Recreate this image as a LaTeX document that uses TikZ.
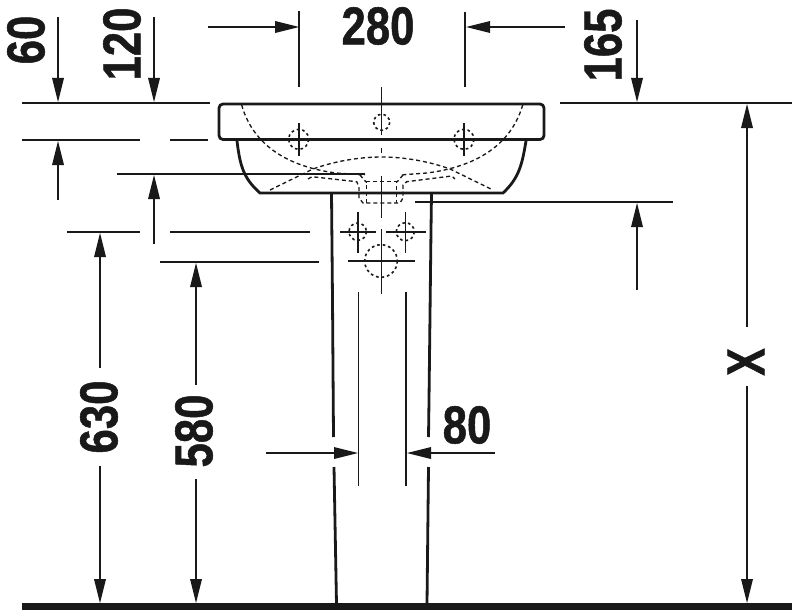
\documentclass[tikz,border=0pt]{standalone}
\usepackage{fontspec}
\setmainfont{Liberation Sans}[BoldFeatures={FakeBold=1.1}]
\definecolor{ink}{rgb}{0.1,0.1,0.1}
\tikzset{
  thinline/.style={ink,line width=0.9pt},
  midline/.style={ink,line width=1.3pt},
  heavyline/.style={ink,line width=2.1pt},
  hidden/.style={ink,line width=1pt,dash pattern=on 3pt off 2.2pt},
  dotted hole/.style={ink,line width=1.2pt,dash pattern=on 2pt off 2.2pt},
  tip/.style={fill=ink,draw=none},
  dimtext/.style={ink,inner sep=0pt,font=\fontsize{40}{40}\selectfont\bfseries,xscale=0.82},
}
\newcommand{\tipdown}[2]{\fill[tip] (#1-6,#2-24) -- (#1+6,#2-24) -- (#1,#2) -- cycle;}
\newcommand{\tipup}[2]{\fill[tip] (#1-6,#2+24) -- (#1+6,#2+24) -- (#1,#2) -- cycle;}
\newcommand{\tipright}[2]{\fill[tip] (#1-24,#2-6) -- (#1-24,#2+6) -- (#1,#2) -- cycle;}
\newcommand{\tipleft}[2]{\fill[tip] (#1+24,#2-6) -- (#1+24,#2+6) -- (#1,#2) -- cycle;}
\begin{document}
\begin{tikzpicture}[x=0.75pt,y=0.75pt,yscale=-1,xscale=1]
    \useasboundingbox (0,0) rectangle (792,610);
    % basin
    \draw [heavyline,rounded corners=3pt] (380,104) -- (544,104) -- (544,139.5) -- (219,139.5) -- (219,104) -- cycle;
    \draw [heavyline] (237,141) .. controls (240,165) and (243,178) .. (260,193) -- (503,193) .. controls (519,178) and (522,165) .. (526,141);
    \draw [hidden] (241.7,105) .. controls (250,135) and (275,165) .. (336,173) -- (365,175);
    \draw [hidden] (522.7,105) .. controls (514,135) and (489,165) .. (427,173) -- (400,175);
    \draw [hidden] (270,190) -- (313,169) .. controls (335,161) and (360,157) .. (381.7,157) .. controls (403,157) and (428,161) .. (450,169) -- (493,190);
    \draw [hidden] (308,179) -- (312,176.7) -- (356.7,181.7) -- (359,187) -- (359,198) -- (363,203) -- (400,203) -- (403,198) -- (403,185) -- (406.7,181.7) -- (451.7,176) -- (455,179);
    \draw [hidden] (366.7,203) -- (366.7,181.7) -- (396.7,181.7) -- (396.7,203);
    \draw [hidden] (360,175) -- (366,182);
    \draw [hidden] (403,175) -- (397,182);
    % holes
    \foreach \hx/\hy/\hr in {298.7/139.3/10,464/139.3/10,381.7/122.3/8,357.7/231.7/8.7,405.3/231.7/9,381/261/16.3}
        \draw [dotted hole] (\hx,\hy) circle (\hr);
    \draw [midline] (298.7,123) -- (298.7,156);
    \draw [midline] (464,123) -- (464,156);
    \draw [thinline] (282,139.3) -- (315,139.3);
    \draw [thinline] (447,139.3) -- (481,139.3);
    \draw [thinline] (340,232) -- (376,232);
    \draw [midline] (357.7,212) -- (357.7,253);
    \draw [thinline] (386,232) -- (426,232);
    \draw [thinline] (405.3,212) -- (405.3,253);
    \draw [thinline] (348,261) -- (415,261);
    % centre line
    \draw [thinline] (381.3,87) -- (381.3,135);
    \draw [thinline] (381.3,148) -- (381.3,153);
    \draw [thinline] (381.3,176) -- (381.3,218);
    \draw [thinline] (381.3,229) -- (381.3,294);
    % pedestal
    \draw [heavyline] (331.5,193) -- (332.5,300) -- (333.5,437);
    \draw [heavyline] (334,467) -- (336.5,604);
    \draw [heavyline] (431.5,193) -- (431,230) -- (429,400) -- (428.5,437);
    \draw [heavyline] (428.5,467) -- (427,604);
    \fill [ink] (22,603) rectangle (792,610);
    % extension lines
    \draw [midline] (22,103) -- (130,103);
    \draw [thinline] (130,103) -- (210,103);
    \draw [midline] (560,103) -- (792,103);
    \draw [midline] (22,140) -- (140,140);
    \draw [midline] (170,140) -- (208,140);
    \draw [midline] (117,174) -- (365,174);
    \draw [midline] (67,232) -- (140,232);
    \draw [midline] (170,232) -- (310,232);
    \draw [midline] (160,262) -- (319,262);
    \draw [midline] (415,202) -- (673,202);
    \draw [thinline] (299,11) -- (299,87);
    \draw [midline] (465,12) -- (465,87);
    \draw [thinline] (358.3,292) -- (358.3,486);
    \draw [midline] (406,292) -- (406,486);
    % dimension lines
    \draw [thinline] (58,17) -- (58,85);
    \draw [thinline] (58,160) -- (58,200);
    \draw [thinline] (154,17) -- (154,85);
    \draw [midline] (154,195) -- (154,244);
    \draw [thinline] (100,250) -- (100,368);
    \draw [thinline] (100,466) -- (100,590);
    \draw [midline] (196,280) -- (196,385);
    \draw [midline] (196,479) -- (196,590);
    \draw [thinline] (747,125) -- (747,327);
    \draw [thinline] (747,386) -- (747,590);
    \draw [midline] (637,20) -- (637,85);
    \draw [midline] (637,222) -- (637,290);
    \draw [thinline] (208,27) -- (280,27);
    \draw [thinline] (485,27) -- (565,27);
    \draw [thinline] (266,453) -- (340,453);
    \draw [thinline] (425,453) -- (495,453);
    % arrow heads
    \tipdown{58}{102} \tipup{58}{141}
    \tipdown{154}{102} \tipup{154}{175}
    \tipup{100}{233} \tipup{196}{263}
    \tipdown{100}{603} \tipdown{196}{603}
    \tipup{747}{104} \tipdown{747}{603}
    \tipdown{637}{102} \tipup{637}{203}
    \tipright{299}{27} \tipleft{466}{27}
    \tipright{358}{453} \tipleft{407}{453}
    % dimension texts
    \node [rotate=90,dimtext] (dimSixty) at (26,40) {60};
    \node [rotate=90,dimtext] (dimOneTwenty) at (122,44) {120};
    \node [dimtext] (dimWidth) at (378,26) {280};
    \node [rotate=90,dimtext] (dimDepth) at (603,45) {165};
    \node [rotate=90,dimtext] (dimHeightA) at (99,417) {630};
    \node [rotate=90,dimtext] (dimHeightB) at (194,431) {580};
    \node [dimtext] (dimPost) at (467,425) {80};
    \node [rotate=90,dimtext,xscale=0.94] (dimFree) at (746,362) {X};
\end{tikzpicture}
\end{document}
